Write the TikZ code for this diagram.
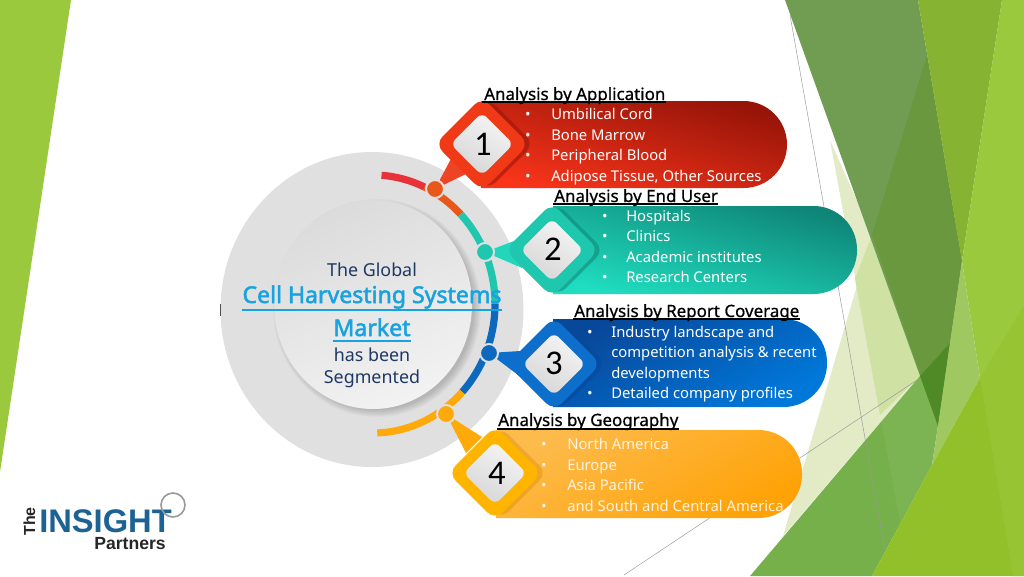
\documentclass[tikz,border=0pt]{standalone}
\usepackage{fontspec}
\setmainfont{Noto Sans}
\newfontfamily\headfont[FakeBold=0.7]{Noto Sans}
\newfontfamily\titlefont[FakeBold=2.2]{Noto Sans}
\newfontfamily\numfont{Carlito}
\newfontfamily\logofont{Liberation Sans}
\usetikzlibrary{calc}
\definecolor{navy}{HTML}{1F3864}
\definecolor{cyantxt}{HTML}{17A2E0}
\definecolor{fA}{HTML}{9BC93E}
\definecolor{fB}{HTML}{86B332}
\definecolor{fC}{HTML}{719D52}
\definecolor{fD}{HTML}{6A983F}
\definecolor{fE}{HTML}{76B04A}
\definecolor{fF}{HTML}{92C02B}
\definecolor{fG}{HTML}{4F8A26}
\definecolor{fH}{HTML}{A0C860}
\definecolor{fP}{HTML}{E2EBC6}
\definecolor{fQ}{HTML}{CFE2A3}
\definecolor{fR}{HTML}{96C432}
\definecolor{rA}{HTML}{961408}\definecolor{rB}{HTML}{F8341A}\definecolor{rC}{HTML}{F03A17}\definecolor{rD}{HTML}{EE4426}\definecolor{rE}{HTML}{E8581A}\definecolor{rF}{HTML}{E8323A}
\definecolor{tA}{HTML}{0E8577}\definecolor{tB}{HTML}{20DDBF}\definecolor{tC}{HTML}{1FC7AE}\definecolor{tD}{HTML}{22D6BC}
\definecolor{bA}{HTML}{08489A}\definecolor{bB}{HTML}{0078DA}\definecolor{bC}{HTML}{0D69BE}\definecolor{bD}{HTML}{0D6FCB}
\definecolor{oA}{HTML}{FDBB4C}\definecolor{oB}{HTML}{FFA207}\definecolor{oC}{HTML}{FFB400}\definecolor{oD}{HTML}{FFA90A}\definecolor{oP}{HTML}{FFF4E0}
\definecolor{logoblue}{HTML}{1C6292}
\def\bodycol{white}
\tikzset{
  body/.style={font=\fontsize{11.1}{13}\selectfont,anchor=base west,inner sep=0pt,text=\bodycol},
  bul/.style={font=\fontsize{11.1}{13}\selectfont,anchor=base,inner sep=0pt,text=\bodycol},
  head/.style={font=\headfont\fontsize{12.7}{14}\selectfont,anchor=base west,inner sep=0pt,text=black},
  ul/.style={line width=1.1pt,black},
  ctext/.style={font=\fontsize{13.4}{15}\selectfont,text=navy,anchor=base,inner sep=0pt},
  ctitle/.style={font=\titlefont\fontsize{17.3}{19}\selectfont,text=cyantxt,anchor=base,inner sep=0pt},
  ctul/.style={draw=cyantxt,line width=1.3pt},
  num/.style={font=\numfont\fontsize{26}{27}\selectfont,text=black,inner sep=0pt},
  thinline/.style={line width=0.35pt,black!40},
  dotring/.style={circle,fill=#1,draw=white!88!black,line width=1.5pt,minimum size=13.5pt,inner sep=0pt},
  band/.style={line width=5.4pt,#1},
  innerdiam/.style={shade,top color=white!96!black,bottom color=white!84!black,shading angle=-30},
}
\newcommand{\bannershape}[7]{%
  \path[shade,top color=#5,bottom color=#6,shading angle=#7]
    (#1,#2) [rounded corners=32.6pt] -- (#3,#2) -- (#3,#4) [sharp corners] -- (#1,#4) -- cycle;}
\newcommand{\diam}[5]{%
  \path[#5,rounded corners=#4pt] ($(#1,#2)+(0,-#3)$) -- ($(#1,#2)+(#3,0)$) -- ($(#1,#2)+(0,#3)$) -- ($(#1,#2)+(-#3,0)$) -- cycle;}
\newcommand{\arcseg}[3]{%
  \draw[band=#3] plot[smooth,domain=#1:#2,samples=24] ({373+122*cos(\x)},{304-129*sin(\x)});}
\newcommand{\bullist}[4]{%
  \node[bul] at (#1,#3) {•};
  \node[body] at (#2,#3) {#4};}
\begin{document}
\begin{tikzpicture}[x=0.75pt,y=-0.75pt]
\useasboundingbox (0,0) rectangle (1024,576);
\fill[white] (0,0) rectangle (1024,576);
% ---------- background facets ----------
\fill[fA] (0,0) -- (71,0) -- (0,472) -- cycle;
\fill[fP] (872,235) -- (920,376) -- (783,536) -- cycle;
\fill[fP] (830,140) -- (872,235) -- (920,376) -- (900,522) -- cycle;
\fill[fQ] (855,279) -- (872,235) -- (920,376) -- (880,415) -- cycle;
\draw[thinline] (624,575) -- (920,378);
\fill[fC] (785,0) -- (918,0) -- (962,261) -- (938,426) -- cycle;
\fill[fD] (872,235) -- (927,55) -- (962,261) -- (938,426) -- cycle;
\fill[fB] (918,0) -- (1002,0) -- (962,261) -- cycle;
\fill[fA] (1002,0) -- (1024,0) -- (1024,305) -- (980,378) -- (962,261) -- cycle;
\fill[fE] (750,576) -- (920,376) -- (950,343) -- (938,426) -- (932,465) -- (872,576) -- cycle;
\fill[white,opacity=.05] (880,415) -- (920,376) -- (938,426) -- (932,465) -- (900,522) -- cycle;
\fill[fG] (920,376) -- (950,343) -- (938,426) -- cycle;
\fill[fH] (938,426) -- (950,343) -- (962,261) -- (980,378) -- (932,465) -- cycle;
\fill[fF] (872,576) -- (932,465) -- (980,378) -- (1024,305) -- (1024,576) -- cycle;
\fill[fR] (980,378) -- (1024,305) -- (1024,576) -- (1013,576) -- cycle;
\draw[thinline] (790,15) -- (885,551);
% ---------- central disc ----------
\fill[black!12!white] (372,309.5) ellipse [x radius=151.5,y radius=157.5];
\draw[black!70,line width=1pt] (220.5,304) -- (220.5,316);
\foreach \k in {0,...,7}{
  \fill[black,opacity=0.022] (377,308) ellipse [x radius=97+\k,y radius=102+\k];}
\path[shade,top color=black!14,bottom color=black!5,shading angle=25]
  (373,304.5) ellipse [x radius=99,y radius=104.5];
% ---------- arc ----------
\arcseg{86}{65}{rF}
\arcseg{65}{44}{rE}
\arcseg{44}{0}{tC}
\arcseg{0}{-43}{bC}
\arcseg{-43}{-88}{oD}
% ---------- banners ----------
\bannershape{481}{101}{787}{188}{rA}{rB}{-15}
\bannershape{553}{206}{857}{294}{tA}{tB}{-15}
\bannershape{553}{319}{827}{407}{bA}{bB}{30}
\bannershape{496}{430}{802}{518}{oA}{oB}{30}
% ---------- pointers ----------
\coordinate (d1) at (435,189);
\coordinate (d2) at (485,252);
\coordinate (d3) at (489,353);
\coordinate (d4) at (446,414);
\fill[rD] (d1) -- (453,155) -- (468,173) -- cycle;
\fill[tD] (d2) -- (522,238) -- (522,268) -- cycle;
\fill[bD] (d3) -- (520,351) -- (526,381) -- cycle;
\fill[oD] (d4) -- (482,437) -- (466,453) -- cycle;
% ---------- diamonds ----------
\diam{488}{144}{46}{8}{fill=rA,opacity=.55}
\diam{558}{250}{46}{8}{fill=tA,opacity=.55}
\diam{560}{364}{46}{8}{fill=bA,opacity=.55}
\diam{501}{473}{46}{8}{fill=oB!85!black,opacity=.4}
\diam{482}{144}{47}{8}{fill=rC}
\diam{552}{250}{47}{8}{fill=tC}
\diam{554}{364}{47}{8}{fill=bD}
\diam{495}{473}{47}{8}{fill=oC}
\diam{482}{144}{31.5}{5}{innerdiam}
\diam{552}{250}{31.5}{5}{innerdiam}
\diam{554}{364}{31.5}{5}{innerdiam}
\diam{495}{473}{31.5}{5}{innerdiam}
\node[num] (n1) at (483,144) {1};
\node[num] (n2) at (553,249) {2};
\node[num] (n3) at (554,363) {3};
\node[num] (n4) at (497,473) {4};
% ---------- dots ----------
\node[dotring=rE] (dot1) at (d1) {};
\node[dotring=tC] (dot2) at (d2) {};
\node[dotring=bC] (dot3) at (d3) {};
\node[dotring=oD] (dot4) at (d4) {};
% ---------- headings ----------
\node[head] (h1) at (484,100) {Analysis by Application};
\draw[ul] ($(h1.base west)+(-2,2)$) -- ($(h1.base east)+(0,2)$);
\node[head] (h2) at (554,202) {Analysis by End User};
\draw[ul] ($(h2.base west)+(-1,2)$) -- ($(h2.base east)+(0,2)$);
\node[head] (h3) at (574,317) {Analysis by Report Coverage};
\draw[ul] ($(h3.base west)+(-1,2)$) -- ($(h3.base east)+(0,2)$);
\node[head] (h4) at (498,426) {Analysis by Geography};
\draw[ul] ($(h4.base west)+(-1,3)$) -- ($(h4.base east)+(0,3)$);
% ---------- lists ----------
\bullist{528}{551}{119}{Umbilical Cord}
\bullist{528}{551}{140}{Bone Marrow}
\bullist{528}{551}{160}{Peripheral Blood}
\bullist{528}{551}{181}{Adipose Tissue, Other Sources}
\bullist{605}{626}{221}{Hospitals}
\bullist{605}{626}{241}{Clinics}
\bullist{605}{626}{262}{Academic institutes}
\bullist{605}{626}{282}{Research Centers}
\bullist{590}{611}{337}{Industry landscape and}
\node[body] (l3b) at (611,357) {competition analysis \& recent};
\node[body] (l3c) at (611,378) {developments};
\bullist{590}{611}{398}{Detailed company profiles}
\def\bodycol{oP}
\bullist{544}{567}{449}{North America}
\bullist{544}{567}{470}{Europe}
\bullist{544}{567}{490}{Asia Pacific}
\bullist{544}{567}{511}{and South and Central America}
% ---------- centre text ----------
\node[ctext] (c1) at (372,276) {The Global};
\node[ctitle] (c2) at (372,303) {Cell Harvesting Systems};
\path[ctul] ($(c2.base west)+(0,7)$) -- ($(c2.base east)+(0,7)$);
\node[ctitle] (c3) at (372,336) {Market};
\path[ctul] ($(c3.base west)+(0,5)$) -- ($(c3.base east)+(0,5)$);
\node[ctext] (c4) at (372,361) {has been};
\node[ctext] (c5) at (372,383) {Segmented};
% ---------- logo ----------
\node[font=\logofont\fontsize{24.5}{26}\selectfont\bfseries,text=logoblue,anchor=base west,inner sep=0pt] (lg1) at (39,532) {INSIGHT};
\node[font=\logofont\fontsize{12}{13}\selectfont\bfseries,text=black!85,anchor=base west,inner sep=0pt,rotate=90] (lg2) at (35,536) {The};
\node[font=\logofont\fontsize{13.2}{14}\selectfont\bfseries,text=black!85,anchor=base west,inner sep=0pt] (lg3) at (94,549) {Partners};
\draw[black!40,line width=1.2pt] (173,505) circle [radius=12];
\end{tikzpicture}
\end{document}
